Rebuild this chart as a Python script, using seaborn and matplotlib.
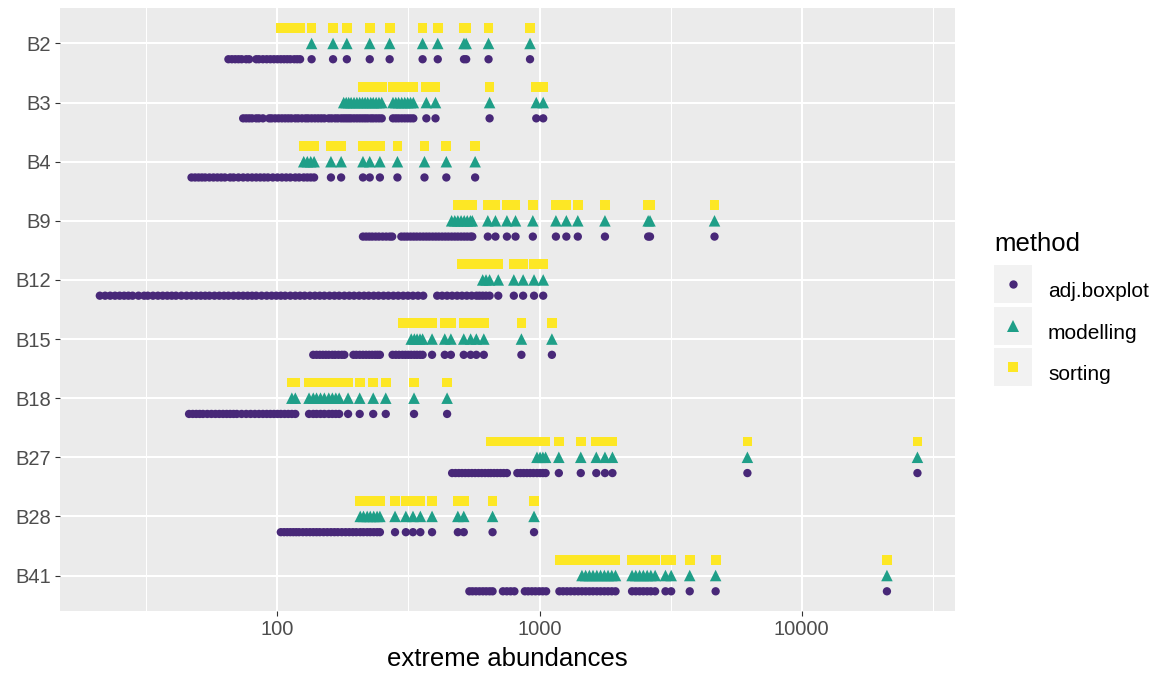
import matplotlib
matplotlib.use("Agg")
import matplotlib.pyplot as plt
from matplotlib.lines import Line2D
from matplotlib.legend_handler import HandlerTuple
from matplotlib.ticker import FixedLocator, NullFormatter
import seaborn as sns
import pandas as pd

# -----------------------------
# DATA
# -----------------------------
samples = ["B2", "B3", "B4", "B9", "B12", "B15", "B18", "B27", "B28", "B41"]
methods = ["adj.boxplot", "modelling", "sorting"]

b2 = [65, 67, 69, 71, 73, 76, 78, 83, 85, 88, 91, 94, 97, 100, 103, 106, 109, 112,
      116, 119, 122, 135, 163, 184, 225, 268, 358, 409, 515, 525, 639, 920]
b3 = [74, 76, 78, 80, 83, 85, 88, 93, 95, 98, 101, 104, 107, 110, 113, 117, 120, 124,
      128, 131, 135, 139, 143, 147, 151, 157, 161, 166, 170, 175, 179, 183, 187, 191,
      196, 201, 206, 211, 216, 221, 227, 232, 238, 244, 250, 276, 283, 290, 298, 306,
      314, 322, 330, 370, 401, 645, 972, 1033]
b4 = [47, 48.5, 50, 51.5, 53, 55, 57, 59, 61, 63, 66, 68, 71, 74, 77, 80, 83, 86, 89,
      92, 96, 100, 104, 108, 112, 117, 121, 126, 130, 134, 138, 160, 175, 212, 225, 246,
      287, 364, 441, 568]
b9 = [212, 218, 224, 230, 237, 244, 252, 260, 268, 274, 297, 305, 313, 322, 331, 340,
      350, 360, 370, 380, 391, 402, 413, 425, 437, 449, 462, 475, 488, 502, 516, 530,
      545, 554, 635, 679, 751, 810, 943, 1155, 1266, 1400, 1777, 2598, 2640, 4654]
b12 = [21, 22, 23, 24, 25, 26, 27, 28, 29.5, 31, 32, 33.5, 35, 36.5, 38, 39.5, 41, 43,
       45, 47, 49, 51, 53, 55, 57.5, 60, 62.5, 65, 68, 71, 74, 77, 80, 83, 87, 91, 95,
       99, 103, 107, 112, 117, 122, 127, 133, 139, 145, 151, 158, 165, 172, 180, 188,
       196, 205, 214, 223, 233, 243, 254, 265, 277, 289, 302, 315, 329, 344, 360, 407,
       425, 444, 464, 485, 506, 528, 551, 575, 590, 607, 625, 645, 696, 798, 866, 953,
       1033]
b15 = [137, 141, 145, 149, 153, 157, 162, 166, 171, 176, 180, 195, 200, 206, 212, 218,
       224, 230, 236, 241, 246, 275, 283, 291, 300, 308, 316, 324, 333, 341, 350, 358,
       389, 435, 459, 514, 546, 574, 613, 853, 1115]
b18 = [46, 47.5, 49, 50.5, 52, 54, 56, 58, 60, 62, 64, 66, 68, 70, 73, 76, 79, 82, 85,
       88, 91, 94, 97, 100, 103, 106.5, 110, 113.5, 117, 132, 137, 141, 146, 151, 157,
       162, 167, 172, 186, 206, 232, 259, 332, 444]
b27 = [464, 478, 492, 506, 521, 536, 552, 568, 585, 602, 620, 638, 652, 671, 690, 710,
       730, 751, 823, 846, 870, 895, 921, 948, 978, 1005, 1030, 1055, 1185, 1437, 1647,
       1777, 1898, 6213, 27680]
b28 = [103, 106, 109, 112, 115, 118, 121, 125, 129, 133, 137, 141, 145, 150, 155, 160,
       165, 170, 176, 182, 188, 194, 200, 207, 213, 220, 226, 233, 240, 246, 281, 309,
       329, 351, 389, 488, 514, 662, 953]
b41 = [540, 555, 572, 590, 608, 626, 645, 662, 725, 750, 776, 802, 879, 905, 935, 965,
       997, 1028, 1060, 1191, 1230, 1272, 1315, 1360, 1405, 1452, 1500, 1550, 1600, 1655,
       1710, 1768, 1826, 1887, 1950, 2255, 2330, 2410, 2490, 2575, 2660, 2762, 3025,
       3180, 3743, 4700, 21170]
sample_values = [b2, b3, b4, b9, b12, b15, b18, b27, b28, b41]

# smallest value flagged as extreme by each method (adj.boxplot flags all of them)
modelling_min = [130, 178, 124, 455, 600, 318, 112, 970, 205, 1450]
sorting_min = [102, 210, 124, 485, 500, 299, 112, 650, 203, 1185]

rows = []
for s, vals, m_min, s_min in zip(samples, sample_values, modelling_min, sorting_min):
    for v in vals:
        rows.append((s, v, "adj.boxplot"))
        if v >= m_min:
            rows.append((s, v, "modelling"))
        if v >= s_min:
            rows.append((s, v, "sorting"))
df = pd.DataFrame(rows, columns=["sample", "abundance", "method"])

# -----------------------------
# STYLE
# -----------------------------
colors = {"adj.boxplot": "#482878", "modelling": "#1F9F88", "sorting": "#FDE725"}
markers = {"adj.boxplot": "o", "modelling": "^", "sorting": "s"}
sizes = {"adj.boxplot": 6.0, "modelling": 8.3, "sorting": 7.0}
dodge_order = ["sorting", "modelling", "adj.boxplot"]  # top to bottom inside a row

plt.rcParams["font.family"] = ["Liberation Sans", "DejaVu Sans"]

fig = plt.figure(figsize=(11.57, 6.75), dpi=100)
ax = fig.add_axes([60 / 1157, 1 - 611 / 675, 895 / 1157, 603 / 675])
ax.set_facecolor("#EBEBEB")

for method in methods:
    sub = df[df["method"] == method]
    sns.stripplot(data=sub, x="abundance", y="sample", hue="method",
                  order=samples, hue_order=dodge_order, palette=colors,
                  dodge=True, jitter=False, marker=markers[method],
                  size=sizes[method], linewidth=0, legend=False,
                  log_scale=True, ax=ax, zorder=3)

ax.set_ylim(len(samples) - 0.4, -0.6)
ax.set_xlim(14.8, 38500)

ax.set_xticks([100, 1000, 10000], labels=["100", "1000", "10000"])
ax.xaxis.set_minor_locator(FixedLocator([10 ** 1.5, 10 ** 2.5, 10 ** 3.5, 10 ** 4.5]))
ax.xaxis.set_minor_formatter(NullFormatter())

ax.grid(which="major", color="white", linewidth=1.5)
ax.grid(which="minor", axis="x", color="white", linewidth=0.75)
ax.set_axisbelow(True)
for sp in ax.spines.values():
    sp.set_visible(False)

ax.tick_params(which="major", length=3.5, width=0.8, color="#333333",
               labelcolor="#4D4D4D", labelsize=14.5, pad=3)
ax.tick_params(which="minor", length=0)

ax.set_ylabel("")
ax.set_xlabel("extreme abundances", fontsize=18.5, color="black", labelpad=6)

# -----------------------------
# LEGEND (ggplot-like grey key boxes)
# -----------------------------
handles = []
for method in methods:
    bg = Line2D([], [], linestyle="", marker="s", markersize=28,
                markerfacecolor="#F2F2F2", markeredgewidth=0)
    fg = Line2D([], [], linestyle="", marker=markers[method], markersize=sizes[method],
                markerfacecolor=colors[method], markeredgewidth=0)
    handles.append((bg, fg))

leg = ax.legend(handles, methods, handler_map={tuple: HandlerTuple(ndivide=1, pad=0)},
                title="method", loc="upper left",
                bbox_to_anchor=(994 / 1157, 1 - 232 / 675), bbox_transform=fig.transFigure,
                frameon=False, fontsize=15, title_fontsize=18.5, borderpad=0,
                borderaxespad=0, handlelength=1.87, handleheight=2.49,
                labelspacing=0.13, handletextpad=0.72)
leg._legend_box.align = "left"
leg._legend_box.sep = 11

fig.savefig("out.png", dpi=100)
